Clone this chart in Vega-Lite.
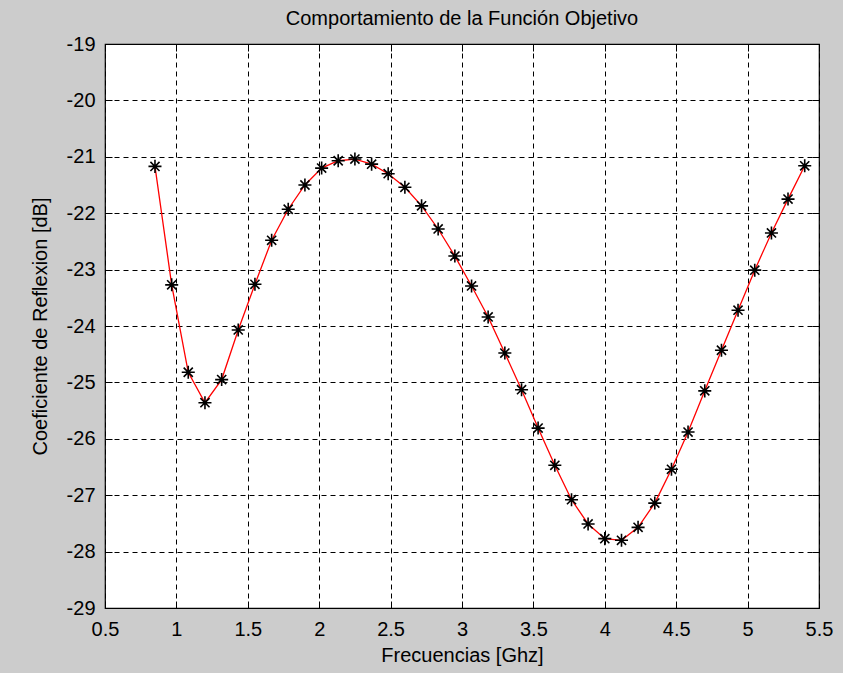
{
  "$schema": "https://vega.github.io/schema/vega-lite/v6.json",
  "autosize": "none",
  "width": 714,
  "height": 564,
  "padding": {"left": 105, "top": 44, "right": 24, "bottom": 65},
  "background": "#cccccc",
  "config": {
    "font": "Liberation Sans",
    "view": {"fill": "#ffffff", "stroke": "#000000", "strokeWidth": 1.2}
  },
  "title": {
    "text": "Comportamiento de la Función Objetivo",
    "fontSize": 20,
    "fontWeight": "normal",
    "color": "#000000",
    "font": "Liberation Sans",
    "offset": 5
  },
  "data": {
    "values": [
      {"f": 0.850, "db": -21.17},
      {"f": 0.967, "db": -23.27},
      {"f": 1.083, "db": -24.82},
      {"f": 1.200, "db": -25.36},
      {"f": 1.317, "db": -24.95},
      {"f": 1.433, "db": -24.07},
      {"f": 1.550, "db": -23.26},
      {"f": 1.667, "db": -22.48},
      {"f": 1.783, "db": -21.93},
      {"f": 1.900, "db": -21.50},
      {"f": 2.017, "db": -21.20},
      {"f": 2.133, "db": -21.07},
      {"f": 2.250, "db": -21.04},
      {"f": 2.367, "db": -21.13},
      {"f": 2.483, "db": -21.30},
      {"f": 2.600, "db": -21.54},
      {"f": 2.717, "db": -21.87},
      {"f": 2.833, "db": -22.28},
      {"f": 2.950, "db": -22.76},
      {"f": 3.067, "db": -23.29},
      {"f": 3.183, "db": -23.84},
      {"f": 3.300, "db": -24.48},
      {"f": 3.417, "db": -25.13},
      {"f": 3.533, "db": -25.81},
      {"f": 3.650, "db": -26.47},
      {"f": 3.767, "db": -27.08},
      {"f": 3.883, "db": -27.51},
      {"f": 4.000, "db": -27.77},
      {"f": 4.117, "db": -27.80},
      {"f": 4.233, "db": -27.57},
      {"f": 4.350, "db": -27.14},
      {"f": 4.467, "db": -26.54},
      {"f": 4.583, "db": -25.88},
      {"f": 4.700, "db": -25.15},
      {"f": 4.817, "db": -24.43},
      {"f": 4.933, "db": -23.72},
      {"f": 5.050, "db": -23.01},
      {"f": 5.167, "db": -22.35},
      {"f": 5.283, "db": -21.75},
      {"f": 5.400, "db": -21.16}
    ]
  },
  "layer": [
    {
      "mark": {"type": "line", "color": "#ff0000", "strokeWidth": 1.3},
      "encoding": {
        "x": {
          "field": "f", "type": "quantitative",
          "scale": {"domain": [0.5, 5.5], "nice": false, "zero": false},
          "axis": {
            "title": "Frecuencias [Ghz]",
            "values": [0.5, 1, 1.5, 2, 2.5, 3, 3.5, 4, 4.5, 5, 5.5],
            "labelExpr": "'' + datum.value",
            "grid": true, "gridColor": "#000000", "gridDash": [5, 4], "gridOpacity": 1, "gridWidth": 1,
            "domain": false,
            "ticks": true, "tickSize": -7, "tickColor": "#000000", "tickWidth": 1,
            "labelPadding": 18, "labelFontSize": 20, "labelColor": "#000000", "labelFont": "Liberation Sans",
            "titleFontSize": 20, "titleFontWeight": "normal", "titleColor": "#000000", "titleFont": "Liberation Sans",
            "titlePadding": 6, "labelFlush": false
          }
        },
        "y": {
          "field": "db", "type": "quantitative",
          "scale": {"domain": [-29, -19], "nice": false, "zero": false},
          "axis": {
            "title": "Coeficiente de Reflexion [dB]",
            "values": [-29, -28, -27, -26, -25, -24, -23, -22, -21, -20, -19],
            "labelExpr": "'' + datum.value",
            "grid": true, "gridColor": "#000000", "gridDash": [5, 4], "gridOpacity": 1, "gridWidth": 1,
            "domain": false,
            "ticks": true, "tickSize": -7, "tickColor": "#000000", "tickWidth": 1,
            "labelPadding": 17, "labelFontSize": 20, "labelColor": "#000000", "labelFont": "Liberation Sans",
            "titleFontSize": 20, "titleFontWeight": "normal", "titleColor": "#000000", "titleFont": "Liberation Sans",
            "titlePadding": 16, "labelFlush": false
          }
        }
      }
    },
    {
      "mark": {
        "type": "point",
        "shape": "M-1,0L1,0M0,-1L0,1M-0.7,-0.7L0.7,0.7M-0.7,0.7L0.7,-0.7",
        "filled": false, "stroke": "#000000", "strokeWidth": 1.6, "size": 170, "opacity": 1
      },
      "encoding": {
        "x": {
          "field": "f", "type": "quantitative",
          "axis": {
            "orient": "top", "title": null, "labels": false, "grid": false, "domain": false,
            "values": [0.5, 1, 1.5, 2, 2.5, 3, 3.5, 4, 4.5, 5, 5.5],
            "ticks": true, "tickSize": -7, "tickColor": "#000000", "tickWidth": 1
          }
        },
        "y": {
          "field": "db", "type": "quantitative",
          "axis": {
            "orient": "right", "title": null, "labels": false, "grid": false, "domain": false,
            "values": [-29, -28, -27, -26, -25, -24, -23, -22, -21, -20, -19],
            "ticks": true, "tickSize": -7, "tickColor": "#000000", "tickWidth": 1
          }
        }
      }
    }
  ],
  "resolve": {"axis": {"x": "independent", "y": "independent"}}
}
